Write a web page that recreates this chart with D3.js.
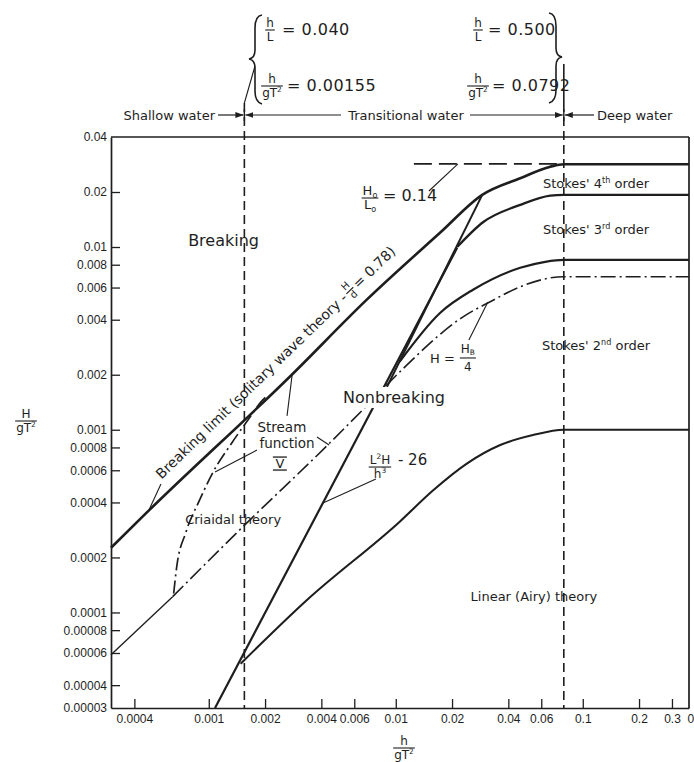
<!DOCTYPE html>
<html>
<head>
<meta charset="utf-8">
<script src="https://cdn.jsdelivr.net/npm/d3@7"></script>
<style>
body { margin: 0; background: #fff; }
svg text { font-family: "DejaVu Sans", sans-serif; fill: #1e1e1e; }
</style>
</head>
<body>
<div id="chart"></div>
<script>
// values, as [h/gT^2, H/gT^2]
var xTicks = [0.0004, 0.001, 0.002, 0.004, 0.006, 0.01, 0.02, 0.04, 0.06, 0.1, 0.2, 0.3, 0.4];
var xTickLabels = ["0.0004", "0.001", "0.002", "0.004", "0.006", "0.01", "0.02", "0.04", "0.06", "0.1", "0.2", "0.3", "0.4"];
var yTicks = [0.00003, 0.00004, 0.00006, 0.00008, 0.0001, 0.0002, 0.0004, 0.0006, 0.0008, 0.001, 0.002, 0.004, 0.006, 0.008, 0.01, 0.02, 0.04];
var yTickLabels = ["0.00003", "0.00004", "0.00006", "0.00008", "0.0001", "0.0002", "0.0004", "0.0006", "0.0008", "0.001", "0.002", "0.004", "0.006", "0.008", "0.01", "0.02", "0.04"];

var shallowLimit = 0.00155;
var deepLimit = 0.0792;

var breakingLimit = [[0.0003, 0.000226], [0.000471, 0.000356], [0.00278, 0.002], [0.007, 0.00515], [0.0173, 0.012], [0.029, 0.0193], [0.0463, 0.0238], [0.067, 0.0275], [0.0792, 0.0284], [0.37, 0.0284]];
var steepnessLimit = [[0.0125, 0.0285], [0.0792, 0.0285]];
var stokes4Left = [[0.00898, 0.00172], [0.029, 0.0193]];
var stokes34 = [[0.0213, 0.0100], [0.0294, 0.0137], [0.0463, 0.017], [0.067, 0.0191], [0.0792, 0.0193], [0.37, 0.0193]];
var stokes23 = [[0.0105, 0.00236], [0.0173, 0.00437], [0.0259, 0.00584], [0.0463, 0.0077], [0.063, 0.0083], [0.0792, 0.0085], [0.37, 0.0085]];
var quarterBreaking = [[0.000641, 0.000122], [0.00152, 0.000294], [0.00445, 0.000849], [0.00728, 0.00141], [0.0112, 0.00221], [0.0229, 0.00415], [0.032, 0.00502], [0.0463, 0.00606], [0.0792, 0.00688], [0.37, 0.00688]];
var cnoidalSolid = [[0.0003, 0.0000587], [0.000641, 0.000122]];
var streamFunction = [[0.000649, 0.000127], [0.000674, 0.000178], [0.000753, 0.000273], [0.000895, 0.000414], [0.00105, 0.000582], [0.00133, 0.000849], [0.00162, 0.00113], [0.00195, 0.00146], [0.00207, 0.00154]];
var ursell = [[0.00108, 0.00003], [0.0213, 0.0099]];
var stokes2Linear = [[0.00148, 0.0000524], [0.00335, 0.000117], [0.0105, 0.000314], [0.0158, 0.000465], [0.0241, 0.000655], [0.0362, 0.000825], [0.0542, 0.000935], [0.0792, 0.001], [0.37, 0.001]];

var W = 694, H = 762;
var ink = "#1e1e1e";

var x = d3.scaleLog().domain([0.0003, 0.37]).range([111, 689]);
var y = d3.scaleLog().domain([0.00003, 0.04]).range([708, 137]);

var svg = d3.select("#chart").append("svg")
    .attr("width", W)
    .attr("height", H);

svg.append("rect").attr("width", W).attr("height", H).attr("fill", "#fff");

var defs = svg.append("defs");
defs.append("marker")
    .attr("id", "arrow")
    .attr("viewBox", "0 0 8 6")
    .attr("refX", 8).attr("refY", 3)
    .attr("markerWidth", 8).attr("markerHeight", 6)
    .attr("markerUnits", "userSpaceOnUse")
    .attr("orient", "auto")
    .append("path").attr("d", "M0,0L8,3L0,6Z").attr("fill", ink);

// axes
var xAxis = d3.axisBottom(x)
    .tickValues(xTicks)
    .tickFormat(function(d, i) { return xTickLabels[i]; })
    .tickSize(-9).tickSizeOuter(0).tickPadding(6);
var yAxis = d3.axisLeft(y)
    .tickValues(yTicks)
    .tickFormat(function(d, i) { return yTickLabels[i]; })
    .tickSize(-9).tickSizeOuter(0).tickPadding(4);

var gx = svg.append("g").attr("transform", "translate(0,708)").call(xAxis);
var gy = svg.append("g").attr("transform", "translate(111,0)").call(yAxis);
[gx, gy].forEach(function(g) {
    g.attr("font-family", null).attr("font-size", 12);
    g.select(".domain").attr("stroke", ink).attr("stroke-width", 1.7);
    g.selectAll(".tick line").attr("stroke", ink).attr("stroke-width", 1.3);
    g.selectAll(".tick text").attr("fill", ink).style("font-family", "'Liberation Sans', Arial, sans-serif");
});
gy.selectAll(".tick").filter(function(d) { return d === 0.04 || d === 0.00003; }).select("line").remove();

// frame
svg.append("line").attr("x1", x.range()[0]).attr("x2", x.range()[1]).attr("y1", y.range()[1]).attr("y2", y.range()[1])
    .attr("stroke", ink).attr("stroke-width", 1.7);
svg.append("line").attr("x1", x.range()[1]).attr("x2", x.range()[1]).attr("y1", y.range()[1]).attr("y2", y.range()[0])
    .attr("stroke", ink).attr("stroke-width", 1.7);

// shallow / deep water limits
var xL = x(shallowLimit), xR = x(deepLimit);
[xL, xR].forEach(function(xx) {
    svg.append("line").attr("x1", xx).attr("x2", xx).attr("y1", 103).attr("y2", y.range()[0])
        .attr("stroke", ink).attr("stroke-width", 1.6).attr("stroke-dasharray", "9,5");
});

var smooth = d3.line().x(function(d) { return x(d[0]); }).y(function(d) { return y(d[1]); }).curve(d3.curveMonotoneX);
var straight = d3.line().x(function(d) { return x(d[0]); }).y(function(d) { return y(d[1]); });

function curve(data, gen, w, dash) {
    var p = svg.append("path").datum(data).attr("d", gen)
        .attr("fill", "none").attr("stroke", ink).attr("stroke-width", w)
        .attr("stroke-linejoin", "round");
    if (dash) p.attr("stroke-dasharray", dash);
    return p;
}

curve(stokes2Linear, smooth, 2.1);
curve(ursell, straight, 2.2);
curve(cnoidalSolid, straight, 1.4);
curve(quarterBreaking, smooth, 1.6, "15,4,2,4");
curve(streamFunction, smooth, 1.7, "13,4,2,4");
curve(stokes23, smooth, 2.2);
curve(stokes34, smooth, 2.3);
curve(stokes4Left, straight, 2.0);
curve(steepnessLimit, straight, 1.6, "18,7");
curve(breakingLimit, smooth, 2.6);

// helpers for stacked fractions and sub/superscripts
function rich(t, parts, size) {
    var shift = 0;
    parts.forEach(function(p) {
        var target = p[1] === "sup" ? -0.42 * size : (p[1] === "sub" ? 0.2 * size : 0);
        var s = t.append("tspan").text(p[0]).attr("dy", target - shift);
        if (p[1]) s.attr("font-size", size * 0.62);
        shift = target;
    });
    return t;
}
function frac(g, cx, barY, num, den, size, gap) {
    var a = rich(g.append("text").attr("x", cx).attr("y", barY - (gap || 3)).attr("text-anchor", "middle").attr("font-size", size), num, size);
    var b = rich(g.append("text").attr("x", cx).attr("y", barY + size * 0.88 + (gap ? gap - 3 : 0)).attr("text-anchor", "middle").attr("font-size", size), den, size);
    var w = Math.max(a.node().getComputedTextLength(), b.node().getComputedTextLength()) + 2;
    g.append("line").attr("x1", cx - w / 2).attr("x2", cx + w / 2).attr("y1", barY).attr("y2", barY)
        .attr("stroke", ink).attr("stroke-width", 1.1);
    return w;
}
function label(px, py, txt, size, anchor) {
    return svg.append("text").attr("x", px).attr("y", py).attr("font-size", size)
        .attr("text-anchor", anchor || "middle").text(txt);
}
function leader(a, b) {
    svg.append("line").attr("x1", x(a[0])).attr("y1", y(a[1])).attr("x2", x(b[0])).attr("y2", y(b[1]))
        .attr("stroke", ink).attr("stroke-width", 1.1);
}

// axis titles
frac(svg, 26, 421, [["H"]], [["gT"], ["2", "sup"]], 12);
frac(svg, 404, 748, [["h"]], [["gT"], ["2", "sup"]], 12);

// header: braces and limits
svg.append("path").attr("d", "M262,15 Q255,16 255,28 L255,50 Q255,58 249,59 Q255,60 255,68 L255,91 Q255,102 262,104")
    .attr("fill", "none").attr("stroke", ink).attr("stroke-width", 1.6);
svg.append("line").attr("x1", 255).attr("y1", 66).attr("x2", xL).attr("y2", 103).attr("stroke", ink).attr("stroke-width", 1.1);
svg.append("path").attr("d", "M549,13 Q556,14 556,26 L556,48 Q556,56 562,57 Q556,58 556,66 L556,90 Q556,101 549,103")
    .attr("fill", "none").attr("stroke", ink).attr("stroke-width", 1.6);
svg.append("line").attr("x1", xR).attr("x2", xR).attr("y1", 64).attr("y2", 103).attr("stroke", ink).attr("stroke-width", 1.6);

var hdr = svg.append("g");
frac(hdr, 270, 30, [["h"]], [["L"]], 12);
label(282, 35, "= 0.040", 16, "start").attr("letter-spacing", 0.5);
frac(hdr, 272, 86, [["h"]], [["gT"], ["2", "sup"]], 12);
label(287, 91, "= 0.00155", 16, "start").attr("letter-spacing", 0.5);
frac(hdr, 478, 30, [["h"]], [["L"]], 12);
label(488, 35, "= 0.500", 16, "start").attr("letter-spacing", 0.5);
frac(hdr, 478, 86, [["h"]], [["gT"], ["2", "sup"]], 12);
label(492, 91, "= 0.0792", 16, "start").attr("letter-spacing", 0.5);

// region row
var rowY = 115;
label(215, rowY + 5, "Shallow water", 13, "end");
label(406, rowY + 5, "Transitional water", 13, "middle");
label(597, rowY + 5, "Deep water", 13, "start");
function arrowLine(x1, x2) {
    svg.append("line").attr("x1", x1).attr("x2", x2).attr("y1", rowY).attr("y2", rowY)
        .attr("stroke", ink).attr("stroke-width", 1.2).attr("marker-end", "url(#arrow)");
}
arrowLine(218, xL - 1);
arrowLine(341, xL + 1);
arrowLine(470, xR - 1);
arrowLine(594, xR + 1);
[xL, xR].forEach(function(xx) {
    svg.append("line").attr("x1", xx).attr("x2", xx).attr("y1", rowY - 6).attr("y2", rowY + 6)
        .attr("stroke", ink).attr("stroke-width", 1.4);
});

// region labels inside the plot
label(x(0.0012), y(0.0101), "Breaking", 16);
var nb = label(x(0.00978), y(0.0014), "Nonbreaking", 16);
var bb = nb.node().getBBox();
svg.insert("rect", function() { return nb.node(); })
    .attr("x", bb.x - 2).attr("y", bb.y - 1).attr("width", bb.width + 4).attr("height", bb.height + 2)
    .attr("fill", "#fff");

label(x(0.00246), y(0.00097), "Stream", 13.5);
label(x(0.00262), y(0.000794), "function", 13.5);
var vx = x(0.0024), vy = y(0.000617);
label(vx, vy, "V", 13);
svg.append("line").attr("x1", vx - 7).attr("x2", vx + 7).attr("y1", vy - 11).attr("y2", vy - 11).attr("stroke", ink).attr("stroke-width", 1.3);
svg.append("line").attr("x1", vx - 7).attr("x2", vx + 7).attr("y1", vy + 2).attr("y2", vy + 2).attr("stroke", ink).attr("stroke-width", 1.3);
leader([0.00262, 0.00119], [0.00279, 0.00199]);
leader([0.00181, 0.000774], [0.00108, 0.000587]);
leader([0.00379, 0.000912], [0.0044, 0.000825]);

label(x(0.00135), y(0.000305), "Criaidal theory", 13);
label(x(0.0548), y(0.000115), "Linear (Airy) theory", 13);

function stokes(yv, n, ord) {
    var t = svg.append("text").attr("x", x(0.1178)).attr("y", y(yv)).attr("text-anchor", "middle").attr("font-size", 13);
    rich(t, [["Stokes' " + n], [ord, "sup"], [" order"]], 13);
    return t;
}
stokes(0.021, "4", "th");
stokes(0.01178, "3", "rd");
stokes(0.00273, "2", "nd");

// H0/L0 = 0.14
var g1 = svg.append("g");
var c1 = [x(0.00728), y(0.01854)];
frac(g1, c1[0], c1[1], [["H"], ["o", "sub"]], [["L"], ["o", "sub"]], 13);
label(c1[0] + 13, c1[1] + 3, "= 0.14", 16, "start");
leader([0.01505, 0.02025], [0.0215, 0.0285]);

// H = HB/4
var g2 = svg.append("g");
var c2 = [x(0.0243), y(0.00247)];
frac(g2, c2[0], c2[1], [["H"], ["B", "sub"]], [["4"]], 12, 5);
label(c2[0] - 13, c2[1] + 5, "H =", 13, "end");
leader([0.0246, 0.0031], [0.0311, 0.005]);

// Ursell parameter
var g3 = svg.append("g");
var c3 = [x(0.00823), y(0.000625)];
frac(g3, c3[0], c3[1], [["L"], ["2", "sup"], ["H"]], [["h"], ["3", "sup"]], 12);
label(c3[0] + 18, c3[1] - 2, "- 26", 15, "start");
leader([0.00783, 0.000537], [0.00408, 0.000397]);

// breaking limit caption along the line
var p1 = [x(breakingLimit[1][0]), y(breakingLimit[1][1])];
var p2 = [x(breakingLimit[3][0]), y(breakingLimit[3][1])];
var ang = Math.atan2(p2[1] - p1[1], p2[0] - p1[0]) * 180 / Math.PI;
var bl = svg.append("g").attr("transform", "translate(" + x(0.000559) + "," + y(0.000533) + ") rotate(" + ang + ")");
var t1 = bl.append("text").attr("x", 0).attr("y", 0).attr("font-size", 14).text("Breaking limit (solitary wave theory -");
var l1 = t1.node().getComputedTextLength();
frac(bl, l1 + 7, -5, [["H"]], [["d"]], 10);
bl.append("text").attr("x", l1 + 14).attr("y", 0).attr("font-size", 14).text("= 0.78)");
leader([0.000555, 0.000505], [0.000473, 0.000354]);
</script>
</body>
</html>
